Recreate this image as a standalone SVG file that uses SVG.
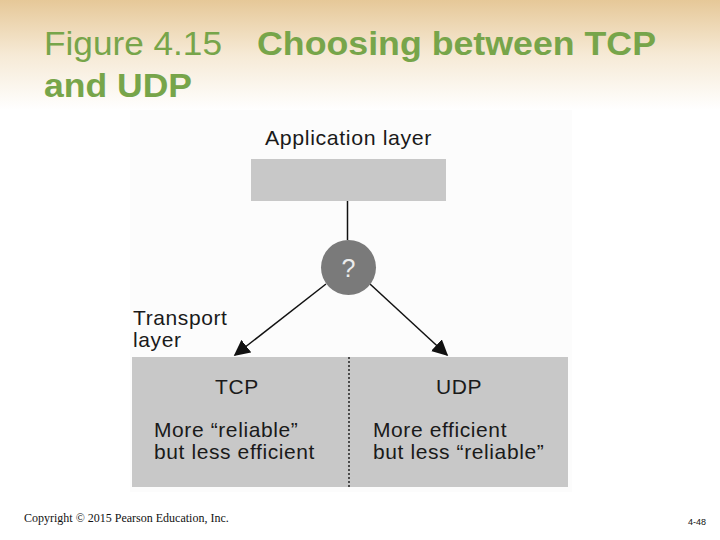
<svg xmlns="http://www.w3.org/2000/svg" width="720" height="540" viewBox="0 0 720 540">
<defs>
<linearGradient id="bg" x1="0" y1="0" x2="0" y2="1">
<stop offset="0" stop-color="#e6c898"/>
<stop offset="0.5" stop-color="#f6ead6"/>
<stop offset="1" stop-color="#ffffff"/>
</linearGradient>
<marker id="ah" viewBox="0 0 10 10" refX="9" refY="5" markerWidth="16" markerHeight="16" markerUnits="userSpaceOnUse" orient="auto">
<path d="M0,0 L10,5 L0,10 z" fill="#111"/>
</marker>
<style>
.title{font-family:"Liberation Sans",Arial,sans-serif;font-size:34px;fill:#77a54a}
.lbl{font-family:"Liberation Sans",Arial,sans-serif;font-size:21px;letter-spacing:0.6px;fill:#1a1a1a}
.box{fill:#c8c8c8}
.conn{stroke:#111;stroke-width:1.5;fill:none}
</style>
</defs>
<rect x="0" y="0" width="720" height="110" fill="url(#bg)"/>
<rect x="0" y="110" width="720" height="430" fill="#ffffff"/>
<rect x="130" y="110" width="442" height="382" fill="#fcfcfc"/>
<g id="title">
<text class="title" x="44" y="55" textLength="178" lengthAdjust="spacingAndGlyphs">Figure 4.15</text>
<text class="title" x="257" y="55" font-weight="bold" textLength="399" lengthAdjust="spacingAndGlyphs">Choosing between TCP</text>
<text class="title" x="44" y="97" font-weight="bold" textLength="148" lengthAdjust="spacingAndGlyphs">and UDP</text>
</g>
<g id="connectors">
<line class="conn" x1="347.5" y1="201" x2="347.5" y2="240"/>
<line class="conn" x1="326" y1="284" x2="235" y2="355" marker-end="url(#ah)"/>
<line class="conn" x1="370" y1="284" x2="447" y2="355" marker-end="url(#ah)"/>
</g>
<g id="application">
<text class="lbl" x="265" y="145" textLength="167" lengthAdjust="spacingAndGlyphs">Application layer</text>
<rect class="box" x="251" y="159" width="195" height="42"/>
</g>
<g id="choice">
<circle cx="348.5" cy="267.5" r="27.5" fill="#7a7a7a"/>
<text x="348.5" y="277" text-anchor="middle" font-family="'Liberation Sans',Arial,sans-serif" font-size="25" fill="#ececec">?</text>
</g>
<g id="transport-label">
<text class="lbl" x="133" y="325">Transport</text>
<text class="lbl" x="133" y="347">layer</text>
</g>
<g id="transport">
<rect class="box" x="132" y="357" width="436" height="130"/>
<line x1="349" y1="357" x2="349" y2="487" stroke="#222" stroke-width="1.5" stroke-dasharray="2,2"/>
</g>
<g id="tcp">
<text class="lbl" x="237" y="394" text-anchor="middle">TCP</text>
<text class="lbl" x="154" y="437">More “reliable”</text>
<text class="lbl" x="154" y="459">but less efficient</text>
</g>
<g id="udp">
<text class="lbl" x="459" y="394" text-anchor="middle">UDP</text>
<text class="lbl" x="373" y="437">More efficient</text>
<text class="lbl" x="373" y="459">but less “reliable”</text>
</g>
<g id="footer">
<text x="24" y="522" font-family="'Liberation Serif','Times New Roman',serif" font-size="12" fill="#111">Copyright © 2015 Pearson Education, Inc.</text>
<text x="706" y="525" text-anchor="end" font-family="'Liberation Sans',Arial,sans-serif" font-size="9" fill="#111">4-48</text>
</g>
</svg>
